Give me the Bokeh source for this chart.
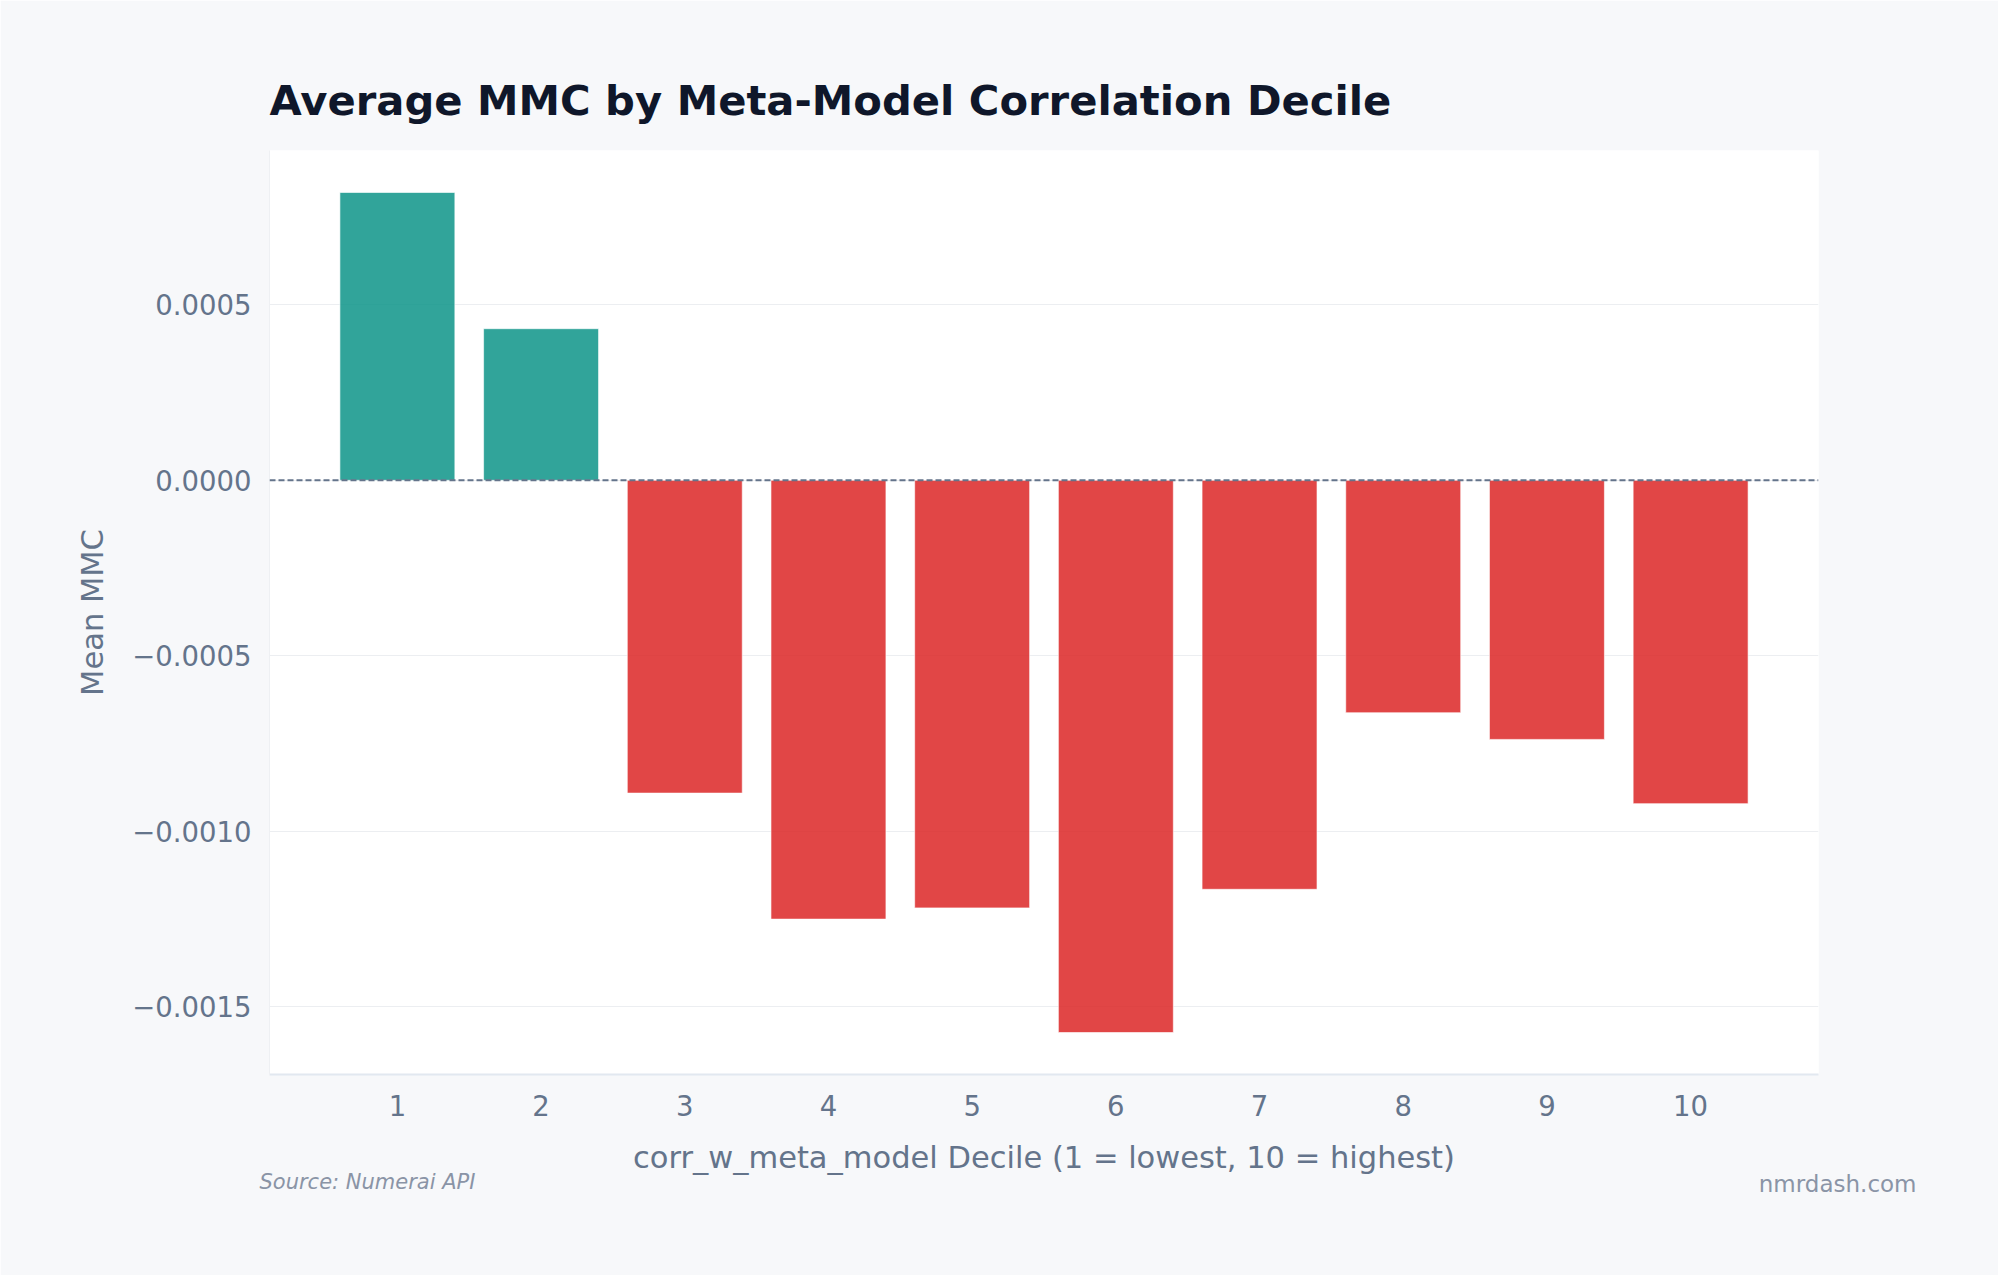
from bokeh.plotting import figure
from bokeh.models import (Range1d, Span, Title, SingleIntervalTicker, FixedTicker,
                          CustomJSTickFormatter, ColumnDataSource)
from bokeh.embed import file_html
from bokeh.resources import INLINE

deciles = [1, 2, 3, 4, 5, 6, 7, 8, 9, 10]
mean_mmc = [0.000820, 0.000432, -0.000891, -0.001250, -0.001218,
            -0.001573, -0.001165, -0.000662, -0.000738, -0.000921]
title_text = "Average MMC by Meta-Model Correlation Decile"
x_label = "corr_w_meta_model Decile (1 = lowest, 10 = highest)"
y_label = "Mean MMC"
source_note = "Source: Numerai API"
brand_note = "nmrdash.com"

POS_COLOR = "#0d9488"
NEG_COLOR = "#dc2626"
colors = [POS_COLOR if v >= 0 else NEG_COLOR for v in mean_mmc]
src = ColumnDataSource(dict(x=deciles, top=mean_mmc, color=colors))

bar_w = 0.8
x_lo, x_hi = min(deciles) - bar_w / 2, max(deciles) + bar_w / 2
x_pad = 0.05 * (x_hi - x_lo)
y_lo, y_hi = min(min(mean_mmc), 0), max(max(mean_mmc), 0)
y_pad = 0.05 * (y_hi - y_lo)

BG = "#f7f8fa"
TXT = "#64748b"
NOTE = "#8a94a6"
FONT = "DejaVu Sans"

W, H = 1998, 1275
p = figure(width=W, height=H, output_backend="svg", toolbar_location=None,
           x_range=Range1d(x_lo - x_pad, x_hi + x_pad),
           y_range=Range1d(y_lo - y_pad, y_hi + y_pad),
           min_border_left=269, min_border_right=180,
           min_border_top=150, min_border_bottom=201,
           background_fill_color="white", border_fill_color=BG,
           outline_line_color=None)

p.title.text = title_text
p.title.text_font = FONT
p.title.text_font_size = "41.7px"
p.title.text_font_style = "bold"
p.title.text_color = "#0f172a"
p.title.align = "left"
p.title.standoff = 51

p.vbar(x="x", top="top", bottom=0, width=bar_w, source=src,
       fill_color="color", fill_alpha=0.85,
       line_color="white", line_alpha=0.6, line_width=1)

p.add_layout(Span(location=0, dimension="width", line_color=TXT,
                  line_width=2, line_dash="6 3"))

xa = p.xaxis[0]
xa.ticker = FixedTicker(ticks=deciles)
ya = p.yaxis[0]
ya.ticker = SingleIntervalTicker(interval=0.0005)
ya.formatter = CustomJSTickFormatter(
    code="return (tick < -1e-12 ? '\u2212' : '') + Math.abs(tick).toFixed(4);")

for ax in (xa, ya):
    ax.major_tick_line_color = None
    ax.minor_tick_line_color = None
    ax.major_label_text_font = FONT
    ax.major_label_text_font_size = "27.5px"
    ax.major_label_text_color = TXT
    ax.axis_label_text_font = FONT
    ax.axis_label_text_font_size = "30.5px"
    ax.axis_label_text_font_style = "normal"
    ax.axis_label_text_color = TXT

xa.axis_label = x_label
ya.axis_label = y_label
xa.axis_line_color = "#e2e8f0"
xa.axis_line_width = 2
ya.axis_line_color = "#eef0f3"
ya.axis_line_width = 1
xa.major_label_standoff = 14
ya.major_label_standoff = 12
xa.axis_label_standoff = 21
ya.axis_label_standoff = 19

p.xgrid.grid_line_color = None
p.ygrid.grid_line_color = "#eceef1"
p.ygrid.grid_line_width = 1

# footer notes (two titles in the lower panel, pulled onto one line)
src_title = Title(text=source_note, align="left", offset=-10,
                  vertical_align="bottom",
                  text_font=FONT, text_font_size="21px",
                  text_font_style="italic", text_color=NOTE)
brand_title = Title(text=brand_note, align="right", offset=-98,
                    vertical_align="top",
                    text_font=FONT, text_font_size="23px",
                    text_font_style="normal", text_color=NOTE)
try:
    src_title.standoff = -20
    brand_title.standoff = -25.6
except Exception:
    src_title.standoff = 0
    brand_title.standoff = 0
p.add_layout(src_title, "below")
p.add_layout(brand_title, "below")

html = file_html(p, INLINE)
open("out.html", "w").write(html)
